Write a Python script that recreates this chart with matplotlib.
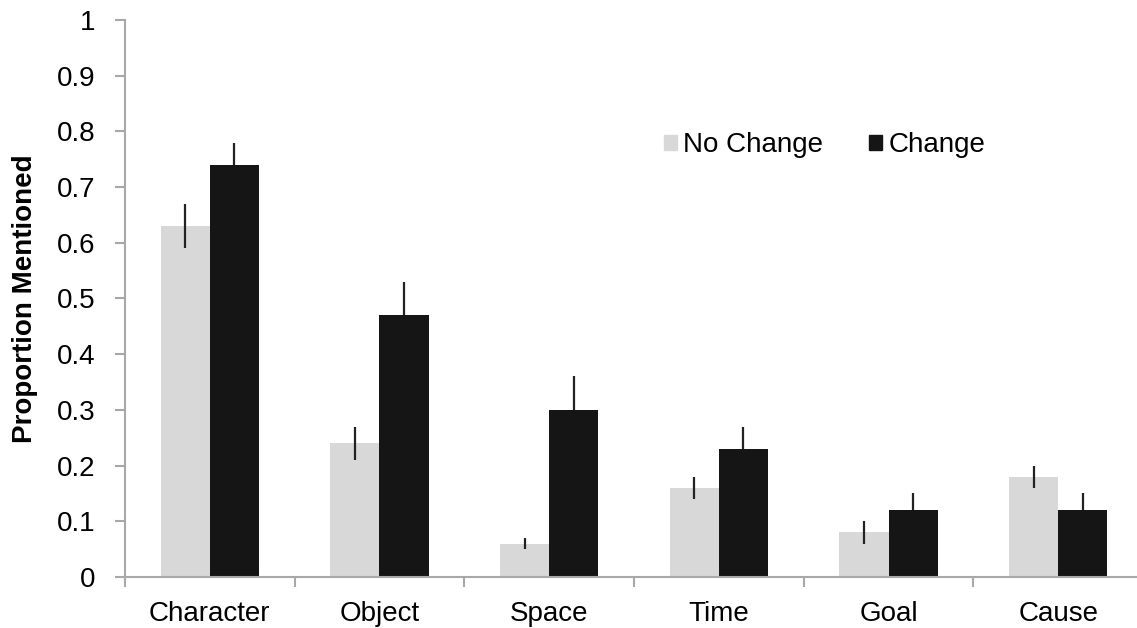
import matplotlib
matplotlib.use("Agg")
import matplotlib.pyplot as plt
import numpy as np
from matplotlib.patches import Patch
from matplotlib.ticker import FuncFormatter

plt.rcParams.update({
    "font.family": ["Liberation Sans", "DejaVu Sans"],
    "font.size": 20,
})

categories = ["Character", "Object", "Space", "Time", "Goal", "Cause"]
no_change = [0.63, 0.24, 0.06, 0.16, 0.08, 0.18]
no_change_err = [0.04, 0.03, 0.01, 0.02, 0.02, 0.02]
change = [0.74, 0.47, 0.30, 0.23, 0.12, 0.12]
change_err = [0.04, 0.06, 0.06, 0.04, 0.03, 0.03]

LIGHT = "#d8d8d8"
DARK = "#151515"
AXIS_GREY = "#a8a8a8"

fig = plt.figure(figsize=(11.37, 6.28), dpi=100)
ax = fig.add_axes([0.1099, 0.0812, 0.8954, 0.887])

x = np.arange(len(categories))
w = 0.29

# light bars: whisker drawn on top; dark bars: whisker hidden inside the bar
ax.bar(x - w / 2, no_change, w, color=LIGHT, yerr=no_change_err, zorder=2,
       error_kw=dict(ecolor="#222222", elinewidth=1.6, capsize=0, zorder=3))
ax.bar(x + w / 2, change, w, color=DARK, yerr=change_err, zorder=2,
       error_kw=dict(ecolor="#222222", elinewidth=1.6, capsize=0, zorder=1))

ax.set_xlim(-0.5, len(categories) - 0.5)
ax.set_ylim(0, 1)
ax.set_yticks(np.arange(0, 1.01, 0.1))
ax.yaxis.set_major_formatter(FuncFormatter(lambda v, _: f"{v:g}"))

ax.set_xticks(x)
ax.set_xticklabels(categories)
ax.set_xticks(np.arange(-0.5, len(categories)), minor=True)
ax.tick_params(axis="x", which="major", length=0, pad=17)
ax.tick_params(axis="x", which="minor", length=7, width=1.5, color=AXIS_GREY)
ax.tick_params(axis="y", length=7, width=1.5, color=AXIS_GREY, pad=14)

for side in ("top", "right"):
    ax.spines[side].set_visible(False)
for side in ("left", "bottom"):
    ax.spines[side].set_color(AXIS_GREY)
    ax.spines[side].set_linewidth(1.5)
    ax.spines[side].set_zorder(4)

ax.set_ylabel("Proportion Mentioned", fontweight="bold", labelpad=14)

handles = [Patch(color=LIGHT), Patch(color=DARK)]
fig.legend(handles, ["No Change", "Change"], ncol=2, frameon=False,
           loc="center left", bbox_to_anchor=(664 / 1137, 1 - 145 / 628),
           borderpad=0, borderaxespad=0, handlelength=0.45, handleheight=0.45,
           handletextpad=0.25, columnspacing=1.65)

fig.savefig("out.png", dpi=100)
